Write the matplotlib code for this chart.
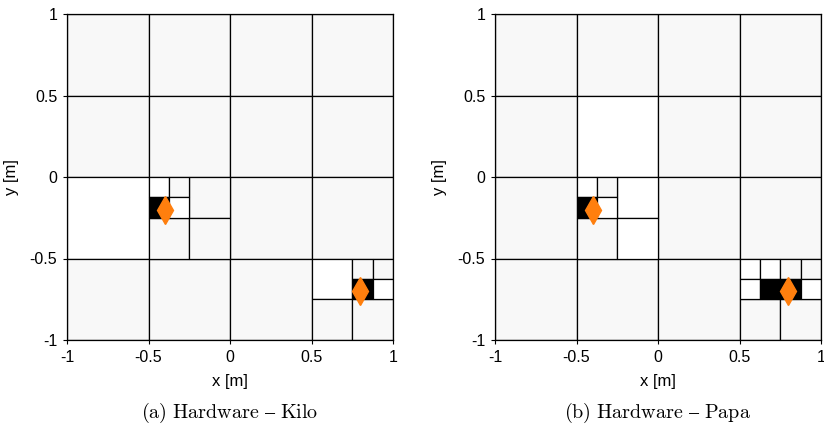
import matplotlib
matplotlib.use("Agg")
import matplotlib.pyplot as plt
from matplotlib.patches import Rectangle

plt.rcParams["font.family"] = ["Liberation Sans", "DejaVu Sans"]
plt.rcParams["axes.unicode_minus"] = False
plt.rcParams["mathtext.fontset"] = "cm"

# ── quadtree leaf cells: (x0, y0, size, state)  state: 0 unknown, 1 free, 2 occupied
kilo_cells = [
    # top level 0.5 cells
    (-1.0, 0.5, 0.5, 0), (-0.5, 0.5, 0.5, 0), (0.0, 0.5, 0.5, 0), (0.5, 0.5, 0.5, 0),
    (-1.0, 0.0, 0.5, 0), (-0.5, 0.0, 0.5, 0), (0.0, 0.0, 0.5, 0), (0.5, 0.0, 0.5, 0),
    (-1.0, -0.5, 0.5, 1), (0.0, -0.5, 0.5, 0), (0.5, -0.5, 0.5, 0),
    (-1.0, -1.0, 0.5, 0), (-0.5, -1.0, 0.5, 0), (0.0, -1.0, 0.5, 0),
    # subdivided cell around first robot
    (-0.25, -0.25, 0.25, 0), (-0.5, -0.5, 0.25, 0), (-0.25, -0.5, 0.25, 0),
    (-0.5, -0.125, 0.125, 1), (-0.375, -0.125, 0.125, 0),
    (-0.5, -0.25, 0.125, 2), (-0.375, -0.25, 0.125, 1),
    # subdivided cell around second robot
    (0.5, -0.75, 0.25, 1), (0.5, -1.0, 0.25, 0), (0.75, -1.0, 0.25, 0),
    (0.75, -0.625, 0.125, 0), (0.875, -0.625, 0.125, 0),
    (0.75, -0.75, 0.125, 2), (0.875, -0.75, 0.125, 1),
]

papa_cells = [
    (-1.0, 0.5, 0.5, 0), (-0.5, 0.5, 0.5, 0), (0.0, 0.5, 0.5, 0), (0.5, 0.5, 0.5, 0),
    (-1.0, 0.0, 0.5, 0), (-0.5, 0.0, 0.5, 1), (0.0, 0.0, 0.5, 0), (0.5, 0.0, 0.5, 0),
    (-1.0, -0.5, 0.5, 0), (0.0, -0.5, 0.5, 0), (0.5, -0.5, 0.5, 0),
    (-1.0, -1.0, 0.5, 0), (-0.5, -1.0, 0.5, 0), (0.0, -1.0, 0.5, 0),
    (-0.25, -0.25, 0.25, 1), (-0.5, -0.5, 0.25, 0), (-0.25, -0.5, 0.25, 1),
    (-0.5, -0.125, 0.125, 1), (-0.375, -0.125, 0.125, 0),
    (-0.5, -0.25, 0.125, 2), (-0.375, -0.25, 0.125, 1),
    (0.5, -1.0, 0.25, 0), (0.75, -1.0, 0.25, 0),
    (0.5, -0.625, 0.125, 1), (0.625, -0.625, 0.125, 1),
    (0.5, -0.75, 0.125, 1), (0.625, -0.75, 0.125, 2),
    (0.75, -0.625, 0.125, 0), (0.875, -0.625, 0.125, 0),
    (0.75, -0.75, 0.125, 2), (0.875, -0.75, 0.125, 1),
]

kilo_robot_x = [-0.4, 0.8]
kilo_robot_y = [-0.2, -0.7]
papa_robot_x = [-0.4, 0.8]
papa_robot_y = [-0.2, -0.7]

ticks = [-1, -0.5, 0, 0.5, 1]
tick_labels = ["-1", "-0.5", "0", "0.5", "1"]
captions = [r"$\mathrm{(a)\ Hardware\ –\ Kilo}$", r"$\mathrm{(b)\ Hardware\ –\ Papa}$"]

state_colors = {0: "#f8f8f8", 1: "#ffffff", 2: "#000000"}

fig = plt.figure(figsize=(8.24, 4.32), dpi=100, facecolor="white")
W, H = 824, 432
panels = [
    (67, kilo_cells, kilo_robot_x, kilo_robot_y),
    (495, papa_cells, papa_robot_x, papa_robot_y),
]

for i, (left_px, cells, rx, ry) in enumerate(panels):
    ax = fig.add_axes([left_px / W, (H - 340) / H, 326 / W, 326 / H])
    for x0, y0, s, st in cells:
        ax.add_patch(Rectangle((x0, y0), s, s, facecolor=state_colors[st],
                               edgecolor="black", linewidth=0.9, zorder=1))
    ax.plot(rx, ry, linestyle="none", marker="d", markersize=14,
            color="#ff7f0e", markeredgecolor="#ff7f0e", zorder=3)

    ax.set_xlim(-1, 1)
    ax.set_ylim(-1, 1)
    ax.set_xticks(ticks, tick_labels)
    ax.set_yticks(ticks, tick_labels)
    ax.tick_params(direction="out", length=3, width=0.8, labelsize=11.5, pad=4)
    for sp in ax.spines.values():
        sp.set_linewidth(0.9)
        sp.set_zorder(4)
    ax.set_xlabel("x [m]", fontsize=12, labelpad=7)
    ax.set_ylabel("y [m]", fontsize=12, labelpad=8)

    cx = (left_px + 163) / W
    fig.text(cx, 1 - 413 / H, captions[i], ha="center", va="center", fontsize=14.5)

fig.savefig("out.png", dpi=100, facecolor="white")
